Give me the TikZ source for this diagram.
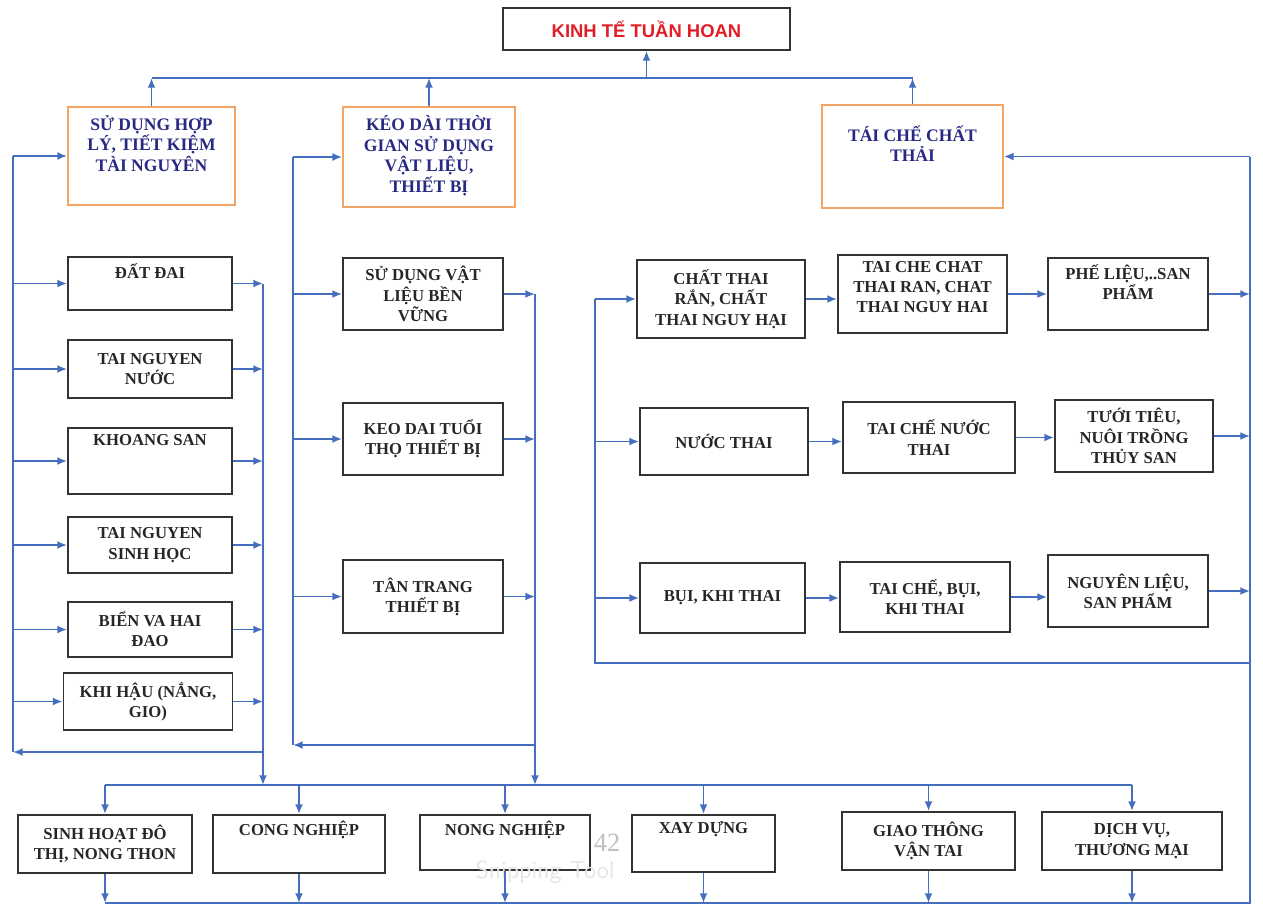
\documentclass[tikz,border=0pt]{standalone}
\usepackage{fontspec}
\usetikzlibrary{arrows.meta}
\setmainfont{Liberation Serif}
\newfontfamily\titlefont{Liberation Sans}
\definecolor{linkblue}{RGB}{70,110,190}
\definecolor{goalorange}{RGB}{242,165,100}
\definecolor{goalnavy}{RGB}{40,42,130}
\definecolor{titlered}{RGB}{225,30,40}
\tikzset{
  box/.style={draw=black!80, line width=1.1pt, rectangle},
  goalbox/.style={draw=goalorange, line width=1pt, rectangle},
  txt/.style={font=\bfseries\fontsize{9.5}{11.5}\selectfont, text=black!85, align=center, inner sep=2pt},
  goaltxt/.style={font=\bfseries\fontsize{10}{11.8}\selectfont, text=goalnavy, align=center, inner sep=2pt},
  toptext/.style={label={[txt,anchor=north,yshift=-2pt]north:{#1}}},
  goaltext/.style={label={[goaltxt,anchor=north,yshift=-3pt]north:{#1}}},
  link/.style={draw=linkblue, line width=1pt},
  linkarrow/.style={link, ->},
}
\begin{document}
\begin{tikzpicture}[x=0.02cm, y=-0.02cm, >={Latex[length=5.5pt,width=4.5pt]}]
\useasboundingbox (0,0) rectangle (1263,917);
% muc tieu chung
\node[box, minimum width=5.74cm, minimum height=0.84cm, font=\titlefont\bfseries\fontsize{10.5}{12}\selectfont, text=titlered] (ktth) at (646.5,29) {KINH TẾ TUẦN HOAN};
\node[goalbox, minimum width=3.34cm, minimum height=1.96cm, goaltext={SỬ DỤNG HỢP\\LÝ, TIẾT KIỆM\\TÀI NGUYÊN}] (tainguyen) at (151.5,156) {};
\node[goalbox, minimum width=3.44cm, minimum height=2.0cm, goaltext={KÉO DÀI THỜI\\GIAN SỬ DỤNG\\VẬT LIỆU,\\THIẾT BỊ}] (keodai) at (429,157) {};
\node[goalbox, minimum width=3.62cm, minimum height=2.06cm, label={[goaltxt,anchor=north,yshift=-10pt]north:{TÁI CHẾ CHẤT\\THẢI}}] (thaiche) at (912.5,156.5) {};
% tai nguyen
\node[box, minimum width=3.28cm, minimum height=1.06cm, toptext={ĐẤT ĐAI}] (datdai) at (150,283.5) {};
\node[box, txt, minimum width=3.28cm, minimum height=1.16cm] (nuoc) at (150,369) {TAI NGUYEN\\NƯỚC};
\node[box, minimum width=3.28cm, minimum height=1.32cm, toptext={KHOANG SAN}] (khoangsan) at (150,461) {};
\node[box, txt, minimum width=3.28cm, minimum height=1.12cm] (sinhhoc) at (150,545) {TAI NGUYEN\\SINH HỌC};
\node[box, txt, minimum width=3.28cm, minimum height=1.10cm] (bien) at (150,629.5) {BIỂN VA HAI\\ĐAO};
\node[box, txt, minimum width=3.38cm, minimum height=1.14cm] (khihau) at (148,701.5) {KHI HẬU (NẮNG,\\GIO)};
% vat lieu, thiet bi
\node[box, txt, minimum width=3.2cm, minimum height=1.44cm] (benvung) at (423,294) {SỬ DỤNG VẬT\\LIỆU BỀN\\VỮNG};
\node[box, txt, minimum width=3.2cm, minimum height=1.44cm] (tuoitho) at (423,439) {KEO DAI TUỔI\\THỌ THIẾT BỊ};
\node[box, txt, minimum width=3.2cm, minimum height=1.46cm] (tantrang) at (423,596.5) {TÂN TRANG\\THIẾT BỊ};
% chat thai
\node[box, txt, minimum width=3.36cm, minimum height=1.56cm] (chatran) at (721,299) {CHẤT THAI\\RẮN, CHẤT\\THAI NGUY HẠI};
\node[box, minimum width=3.38cm, minimum height=1.56cm, toptext={TAI CHE CHAT\\THAI RAN, CHAT\\THAI NGUY HAI}] (taicheran) at (922.5,294) {};
\node[box, minimum width=3.2cm, minimum height=1.44cm, toptext={PHẾ LIỆU,..SAN\\PHẨM}] (phelieu) at (1128,294) {};
\node[box, txt, minimum width=3.36cm, minimum height=1.34cm] (nuocthai) at (724,441.5) {NƯỚC THAI};
\node[box, txt, minimum width=3.44cm, minimum height=1.42cm] (taichenuoc) at (929,437.5) {TAI CHẾ NƯỚC\\THAI};
\node[box, txt, minimum width=3.16cm, minimum height=1.44cm] (tuoitieu) at (1134,436) {TƯỚI TIÊU,\\NUÔI TRỒNG\\THỦY SAN};
\node[box, txt, minimum width=3.3cm, minimum height=1.4cm] (khithai) at (722.5,598) {BỤI, KHI THAI};
\node[box, txt, minimum width=3.4cm, minimum height=1.4cm] (taichebui) at (925,597) {TAI CHẾ, BỤI,\\KHI THAI};
\node[box, txt, minimum width=3.2cm, minimum height=1.44cm] (sanpham) at (1128,591) {NGUYÊN LIỆU,\\SAN PHẨM};
% nganh
\node[box, txt, minimum width=3.48cm, minimum height=1.16cm] (sinhhoat) at (105,844) {SINH HOẠT ĐÔ\\THỊ, NONG THON};
\node[box, minimum width=3.44cm, minimum height=1.16cm, toptext={CONG NGHIỆP}] (congnghiep) at (299,844) {};
\node[box, minimum width=3.4cm, minimum height=1.1cm, toptext={NONG NGHIỆP}] (nongnghiep) at (505,842.5) {};
\node[box, minimum width=2.86cm, minimum height=1.14cm, toptext={XAY DỰNG}] (xaydung) at (703.5,843.5) {};
\node[box, txt, minimum width=3.46cm, minimum height=1.16cm] (giaothong) at (928.5,841) {GIAO THÔNG\\VẬN TAI};
\node[box, txt, minimum width=3.6cm, minimum height=1.16cm] (dichvu) at (1132,841) {DỊCH VỤ,\\THƯƠNG MẠI};
\node[text=black!25, font=\fontsize{15}{15}\selectfont] (trang) at (607,843) {42};
\node[text=black!10, font=\sffamily\fontsize{14}{14}\selectfont] (snip) at (545,872) {Snipping Tool};
% duong noi
\coordinate (topbus) at (646,78);
\coordinate (lfeed) at (13,752);
\coordinate (lcollect) at (263,752);
\coordinate (mfeed) at (293,745);
\coordinate (mcollect) at (535,745);
\coordinate (botbus) at (0,785);
\coordinate (retbus) at (1250,903);
\coordinate (rturn) at (1250,663);
\coordinate (rfeed) at (595,663);
\draw[link] (tainguyen.north |- topbus) -- (thaiche.north |- topbus);
\draw[linkarrow] (tainguyen.north) -- (tainguyen.north |- topbus);
\draw[linkarrow] (keodai.north) -- (keodai.north |- topbus);
\draw[linkarrow] (thaiche.north) -- (thaiche.north |- topbus);
\draw[linkarrow] (ktth.south |- topbus) -- (ktth.south);
% vong trai
\draw[linkarrow] (lcollect) -- (lfeed);
\draw[link] (lfeed) -- (lfeed |- tainguyen.west);
\draw[linkarrow] (lfeed |- tainguyen.west) -- (tainguyen.west);
\draw[linkarrow] (lfeed |- datdai.west) -- (datdai.west);
\draw[linkarrow] (lfeed |- nuoc.west) -- (nuoc.west);
\draw[linkarrow] (lfeed |- khoangsan.west) -- (khoangsan.west);
\draw[linkarrow] (lfeed |- sinhhoc.west) -- (sinhhoc.west);
\draw[linkarrow] (lfeed |- bien.west) -- (bien.west);
\draw[linkarrow] (lfeed |- khihau.west) -- (khihau.west);
\draw[linkarrow] (datdai.east) -- (lcollect |- datdai.east);
\draw[linkarrow] (nuoc.east) -- (lcollect |- nuoc.east);
\draw[linkarrow] (khoangsan.east) -- (lcollect |- khoangsan.east);
\draw[linkarrow] (sinhhoc.east) -- (lcollect |- sinhhoc.east);
\draw[linkarrow] (bien.east) -- (lcollect |- bien.east);
\draw[linkarrow] (khihau.east) -- (lcollect |- khihau.east);
\draw[link] (lcollect |- datdai.east) -- (lcollect);
\draw[linkarrow] (lcollect) -- (lcollect |- botbus);
% vong giua
\draw[linkarrow] (mcollect) -- (mfeed);
\draw[link] (mfeed) -- (mfeed |- keodai.west);
\draw[linkarrow] (mfeed |- keodai.west) -- (keodai.west);
\draw[linkarrow] (mfeed |- benvung.west) -- (benvung.west);
\draw[linkarrow] (mfeed |- tuoitho.west) -- (tuoitho.west);
\draw[linkarrow] (mfeed |- tantrang.west) -- (tantrang.west);
\draw[linkarrow] (benvung.east) -- (mcollect |- benvung.east);
\draw[linkarrow] (tuoitho.east) -- (mcollect |- tuoitho.east);
\draw[linkarrow] (tantrang.east) -- (mcollect |- tantrang.east);
\draw[link] (mcollect |- benvung.east) -- (mcollect);
\draw[linkarrow] (mcollect) -- (mcollect |- botbus);
% xuong cac nganh
\draw[link] (sinhhoat.north |- botbus) -- (dichvu.north |- botbus);
\draw[linkarrow] (sinhhoat.north |- botbus) -- (sinhhoat.north);
\draw[linkarrow] (congnghiep.north |- botbus) -- (congnghiep.north);
\draw[linkarrow] (nongnghiep.north |- botbus) -- (nongnghiep.north);
\draw[linkarrow] (xaydung.north |- botbus) -- (xaydung.north);
\draw[linkarrow] (giaothong.north |- botbus) -- (giaothong.north);
\draw[linkarrow] (dichvu.north |- botbus) -- (dichvu.north);
\draw[linkarrow] (sinhhoat.south) -- (sinhhoat.south |- retbus);
\draw[linkarrow] (congnghiep.south) -- (congnghiep.south |- retbus);
\draw[linkarrow] (nongnghiep.south) -- (nongnghiep.south |- retbus);
\draw[linkarrow] (xaydung.south) -- (xaydung.south |- retbus);
\draw[linkarrow] (giaothong.south) -- (giaothong.south |- retbus);
\draw[linkarrow] (dichvu.south) -- (dichvu.south |- retbus);
% vong phai
\draw[link] (sinhhoat.south |- retbus) -- (retbus) -- (retbus |- thaiche.east);
\draw[linkarrow] (retbus |- thaiche.east) -- (thaiche.east);
\draw[link] (rturn) -- (rfeed) -- (rfeed |- chatran.west);
\draw[linkarrow] (rfeed |- chatran.west) -- (chatran.west);
\draw[linkarrow] (rfeed |- nuocthai.west) -- (nuocthai.west);
\draw[linkarrow] (rfeed |- khithai.west) -- (khithai.west);
\draw[linkarrow] (chatran.east) -- (chatran.east -| taicheran.west);
\draw[linkarrow] (taicheran.east) -- (taicheran.east -| phelieu.west);
\draw[linkarrow] (nuocthai.east) -- (nuocthai.east -| taichenuoc.west);
\draw[linkarrow] (taichenuoc.east) -- (taichenuoc.east -| tuoitieu.west);
\draw[linkarrow] (khithai.east) -- (khithai.east -| taichebui.west);
\draw[linkarrow] (taichebui.east) -- (taichebui.east -| sanpham.west);
\draw[linkarrow] (phelieu.east) -- (retbus |- phelieu.east);
\draw[linkarrow] (tuoitieu.east) -- (retbus |- tuoitieu.east);
\draw[linkarrow] (sanpham.east) -- (retbus |- sanpham.east);
\end{tikzpicture}
\end{document}
